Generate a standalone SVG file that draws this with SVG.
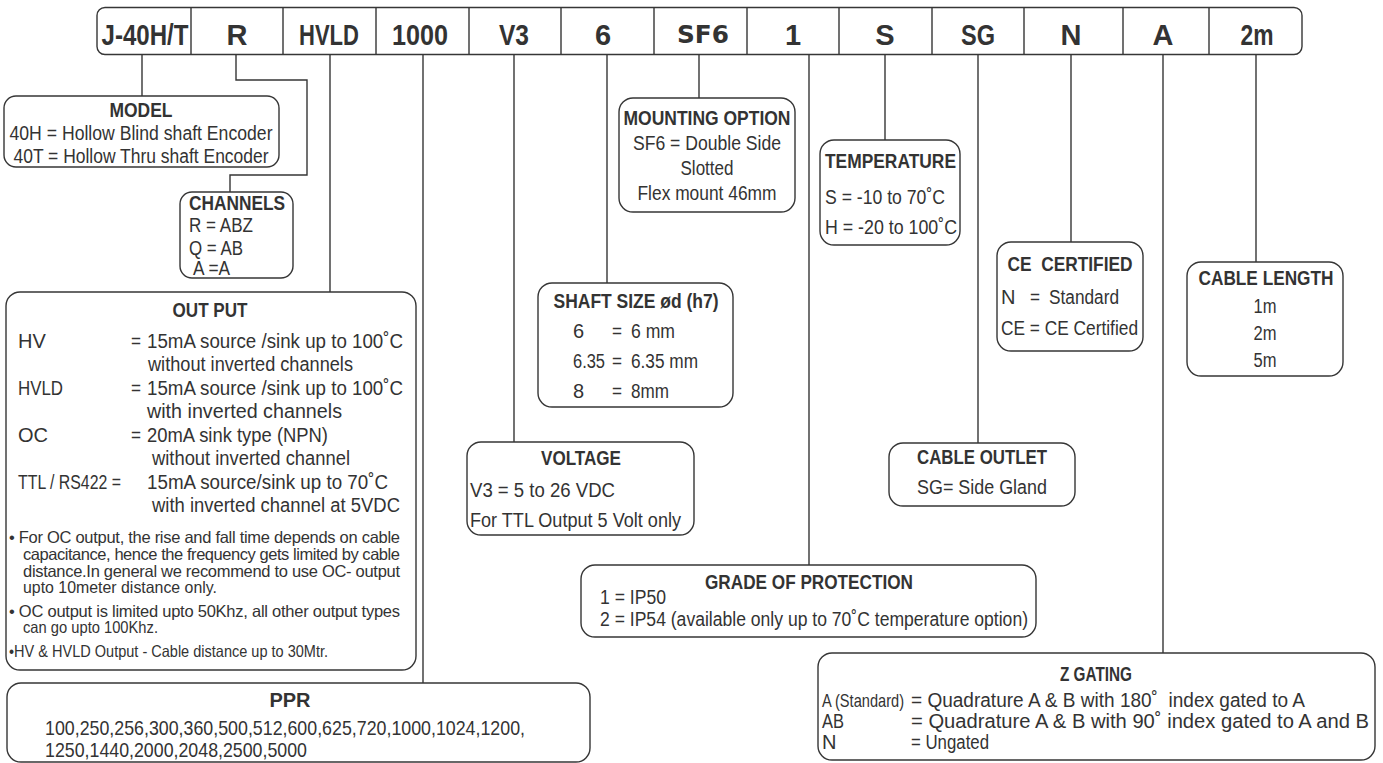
<svg xmlns="http://www.w3.org/2000/svg" width="1383" height="763" viewBox="0 0 1383 763">
<style>
.ln{fill:none;stroke:#363636;stroke-width:1.4}
.bx{fill:#fff;stroke:#363636;stroke-width:1.4}
.t{font-family:"Liberation Sans Narrow","Arial Narrow","Liberation Sans",Arial,sans-serif;font-size:20px;fill:#333}
.b{font-weight:bold}
.c{text-anchor:middle}
.hd{font-size:29px;font-weight:bold}
.sm{font-size:16.5px}
.pp{font-size:21px}
</style>
<rect width="1383" height="763" fill="#fff"/>
<g id="connectors" class="ln">
<path d="M142,55V96"/>
<path d="M236,55V80H307V175H230V192"/>
<path d="M330,55V292"/>
<path d="M423,55V683"/>
<path d="M514,55V442"/>
<path d="M607,55V283"/>
<path d="M699,55V98"/>
<path d="M809,55V565"/>
<path d="M885,55V140"/>
<path d="M978,55V443"/>
<path d="M1071,55V242"/>
<path d="M1163,55V653"/>
<path d="M1256,55V262"/>
</g>
<g id="code-bar">
<rect class="bx" x="97" y="7.5" width="1205" height="47" rx="8"/>
<path class="ln" d="M191,7.5V54.5M283,7.5V54.5M376,7.5V54.5M469,7.5V54.5M561,7.5V54.5M654,7.5V54.5M747,7.5V54.5M839,7.5V54.5M932,7.5V54.5M1024,7.5V54.5M1123,7.5V54.5M1209,7.5V54.5"/>
<g class="t hd c">
<text x="145" y="45" textLength="87" lengthAdjust="spacingAndGlyphs">J-40H/T</text>
<text x="237" y="45">R</text>
<text x="329" y="45" textLength="60" lengthAdjust="spacingAndGlyphs">HVLD</text>
<text x="420" y="45" textLength="56" lengthAdjust="spacingAndGlyphs">1000</text>
<text x="514" y="45" textLength="30" lengthAdjust="spacingAndGlyphs">V3</text>
<text x="603" y="45">6</text>
<text x="793" y="45">1</text>
<text x="885" y="45">S</text>
<text x="978" y="45" textLength="34" lengthAdjust="spacingAndGlyphs">SG</text>
<text x="1071" y="45">N</text>
<text x="1163" y="45">A</text>
<text x="1257" y="45" textLength="33" lengthAdjust="spacingAndGlyphs">2m</text>
</g>
<text x="703" y="43" font-family="DejaVu Sans, sans-serif" font-weight="bold" font-size="24" fill="#333" text-anchor="middle" textLength="52" lengthAdjust="spacingAndGlyphs">SF6</text>
</g>
<g id="model">
<rect class="bx" x="4" y="96" width="275" height="71" rx="12"/>
<g class="t c">
<text class="b" x="141" y="117" textLength="63" lengthAdjust="spacingAndGlyphs">MODEL</text>
<text x="141" y="140" textLength="263" lengthAdjust="spacingAndGlyphs">40H = Hollow Blind shaft Encoder</text>
<text x="141" y="163" textLength="255" lengthAdjust="spacingAndGlyphs">40T = Hollow Thru shaft Encoder</text>
</g>
</g>
<g id="channels">
<rect class="bx" x="180" y="192" width="113" height="86" rx="12"/>
<g class="t">
<text class="b" x="189" y="210" textLength="96" lengthAdjust="spacingAndGlyphs">CHANNELS</text>
<text x="189" y="232" textLength="64" lengthAdjust="spacingAndGlyphs">R = ABZ</text>
<text x="189" y="255" textLength="54" lengthAdjust="spacingAndGlyphs">Q = AB</text>
<text x="193" y="275" textLength="37" lengthAdjust="spacingAndGlyphs">A =A</text>
</g>
</g>
<g id="output">
<rect class="bx" x="6" y="292" width="410" height="378" rx="14"/>
<g class="t">
<text class="b c" x="210" y="317" textLength="75" lengthAdjust="spacingAndGlyphs">OUT PUT</text>
<text x="18" y="348">HV</text><text x="131" y="348" textLength="10" lengthAdjust="spacingAndGlyphs">=</text>
<text x="147" y="348" textLength="256" lengthAdjust="spacingAndGlyphs">15mA source /sink up to 100˚C</text>
<text x="148" y="371" textLength="205" lengthAdjust="spacingAndGlyphs">without inverted channels</text>
<text x="18" y="395" textLength="45" lengthAdjust="spacingAndGlyphs">HVLD</text><text x="131" y="395" textLength="10" lengthAdjust="spacingAndGlyphs">=</text>
<text x="147" y="395" textLength="256" lengthAdjust="spacingAndGlyphs">15mA source /sink up to 100˚C</text>
<text x="147" y="418" textLength="195" lengthAdjust="spacingAndGlyphs">with inverted channels</text>
<text x="18" y="442">OC</text><text x="131" y="442" textLength="10" lengthAdjust="spacingAndGlyphs">=</text>
<text x="147" y="442" textLength="181" lengthAdjust="spacingAndGlyphs">20mA sink type (NPN)</text>
<text x="152" y="465" textLength="198" lengthAdjust="spacingAndGlyphs">without inverted channel</text>
<text x="18" y="489" textLength="103" lengthAdjust="spacingAndGlyphs">TTL / RS422 =</text>
<text x="147" y="489" textLength="241" lengthAdjust="spacingAndGlyphs">15mA source/sink up to 70˚C</text>
<text x="152" y="512" textLength="248" lengthAdjust="spacingAndGlyphs">with inverted channel at 5VDC</text>
</g>
<g class="t sm">
<text x="9" y="543" textLength="391">• For OC output, the rise and fall time depends on cable</text>
<text x="23" y="560" textLength="377">capacitance, hence the frequency gets limited by cable</text>
<text x="23" y="577" textLength="377">distance.In general we recommend to use OC- output</text>
<text x="23" y="593" textLength="194" lengthAdjust="spacingAndGlyphs">upto 10meter distance only.</text>
<text x="9" y="617" textLength="391">• OC output is limited upto 50Khz, all other output types</text>
<text x="23" y="633" textLength="135" lengthAdjust="spacingAndGlyphs">can go upto 100Khz.</text>
<text x="9" y="657" textLength="319" lengthAdjust="spacingAndGlyphs">•HV &amp; HVLD Output - Cable distance up to 30Mtr.</text>
</g>
</g>
<g id="ppr">
<rect class="bx" x="7" y="683" width="583" height="79" rx="14"/>
<g class="t pp">
<text class="b c" x="290" y="707" font-size="20">PPR</text>
<text x="45" y="735" textLength="480" lengthAdjust="spacingAndGlyphs">100,250,256,300,360,500,512,600,625,720,1000,1024,1200,</text>
<text x="45" y="757" textLength="262" lengthAdjust="spacingAndGlyphs">1250,1440,2000,2048,2500,5000</text>
</g>
</g>
<g id="mounting">
<rect class="bx" x="619" y="98" width="176" height="114" rx="14"/>
<g class="t c">
<text class="b" x="707" y="125" textLength="167" lengthAdjust="spacingAndGlyphs">MOUNTING OPTION</text>
<text x="707" y="150" textLength="148" lengthAdjust="spacingAndGlyphs">SF6 = Double Side</text>
<text x="707" y="175" textLength="53" lengthAdjust="spacingAndGlyphs">Slotted</text>
<text x="707" y="200" textLength="139" lengthAdjust="spacingAndGlyphs">Flex mount 46mm</text>
</g>
</g>
<g id="shaft">
<rect class="bx" x="538" y="283" width="195" height="124" rx="14"/>
<g class="t">
<text class="b c" x="636" y="308" textLength="165" lengthAdjust="spacingAndGlyphs">SHAFT SIZE ød (h7)</text>
<text x="573" y="338">6</text><text x="612" y="338" textLength="10" lengthAdjust="spacingAndGlyphs">=</text><text x="631" y="338" textLength="44" lengthAdjust="spacingAndGlyphs">6 mm</text>
<text x="573" y="368" textLength="32" lengthAdjust="spacingAndGlyphs">6.35</text><text x="612" y="368" textLength="10" lengthAdjust="spacingAndGlyphs">=</text><text x="631" y="368" textLength="67" lengthAdjust="spacingAndGlyphs">6.35 mm</text>
<text x="573" y="398">8</text><text x="612" y="398" textLength="10" lengthAdjust="spacingAndGlyphs">=</text><text x="631" y="398" textLength="38" lengthAdjust="spacingAndGlyphs">8mm</text>
</g>
</g>
<g id="temperature">
<rect class="bx" x="820" y="140" width="140" height="105" rx="14"/>
<g class="t">
<text class="b" x="825" y="168" textLength="131" lengthAdjust="spacingAndGlyphs">TEMPERATURE</text>
<text x="825" y="204" textLength="120" lengthAdjust="spacingAndGlyphs">S = -10 to 70˚C</text>
<text x="825" y="234" textLength="132" lengthAdjust="spacingAndGlyphs">H = -20 to 100˚C</text>
</g>
</g>
<g id="ce">
<rect class="bx" x="997" y="242" width="146" height="109" rx="14"/>
<g class="t">
<text class="b c" x="1070" y="271" textLength="125" lengthAdjust="spacingAndGlyphs" xml:space="preserve">CE  CERTIFIED</text>
<text x="1001" y="304">N</text><text x="1030" y="304" textLength="10" lengthAdjust="spacingAndGlyphs">=</text>
<text x="1049" y="304" textLength="70" lengthAdjust="spacingAndGlyphs">Standard</text>
<text x="1001" y="335" textLength="137" lengthAdjust="spacingAndGlyphs">CE = CE Certified</text>
</g>
</g>
<g id="cable-length">
<rect class="bx" x="1187" y="262" width="156" height="114" rx="14"/>
<g class="t c">
<text class="b" x="1266" y="285" textLength="135" lengthAdjust="spacingAndGlyphs">CABLE LENGTH</text>
<text x="1265" y="313" textLength="23" lengthAdjust="spacingAndGlyphs">1m</text>
<text x="1265" y="340" textLength="23" lengthAdjust="spacingAndGlyphs">2m</text>
<text x="1265" y="367" textLength="23" lengthAdjust="spacingAndGlyphs">5m</text>
</g>
</g>
<g id="voltage">
<rect class="bx" x="467" y="442" width="227" height="93" rx="14"/>
<g class="t">
<text class="b c" x="581" y="465" textLength="80" lengthAdjust="spacingAndGlyphs">VOLTAGE</text>
<text x="470" y="497" textLength="145" lengthAdjust="spacingAndGlyphs">V3 = 5 to 26 VDC</text>
<text x="470" y="527" textLength="211" lengthAdjust="spacingAndGlyphs">For TTL Output 5 Volt only</text>
</g>
</g>
<g id="cable-outlet">
<rect class="bx" x="889" y="443" width="186" height="63" rx="14"/>
<g class="t c">
<text class="b" x="982" y="464" textLength="130" lengthAdjust="spacingAndGlyphs">CABLE OUTLET</text>
<text x="982" y="494" textLength="130" lengthAdjust="spacingAndGlyphs">SG= Side Gland</text>
</g>
</g>
<g id="protection">
<rect class="bx" x="581" y="565" width="455" height="72" rx="14"/>
<g class="t">
<text class="b c" x="809" y="589" textLength="208" lengthAdjust="spacingAndGlyphs">GRADE OF PROTECTION</text>
<text x="600" y="604" textLength="66" lengthAdjust="spacingAndGlyphs">1 = IP50</text>
<text x="600" y="626" textLength="428" lengthAdjust="spacingAndGlyphs">2 = IP54 (available only up to 70˚C temperature option)</text>
</g>
</g>
<g id="z-gating">
<rect class="bx" x="818" y="653" width="557" height="107" rx="14"/>
<g class="t">
<text class="b c" x="1096" y="681" textLength="72" lengthAdjust="spacingAndGlyphs">Z GATING</text>
<text x="822" y="707" font-size="19" textLength="82" lengthAdjust="spacingAndGlyphs">A (Standard)</text>
<text x="911" y="707" textLength="394" lengthAdjust="spacingAndGlyphs" xml:space="preserve">= Quadrature A &amp; B with 180˚  index gated to A</text>
<text x="822" y="728" textLength="22" lengthAdjust="spacingAndGlyphs">AB</text>
<text x="911" y="728" textLength="458" lengthAdjust="spacingAndGlyphs">= Quadrature A &amp; B with 90˚ index gated to A and B</text>
<text x="822" y="749">N</text>
<text x="911" y="749" textLength="78" lengthAdjust="spacingAndGlyphs">= Ungated</text>
</g>
</g>
</svg>
